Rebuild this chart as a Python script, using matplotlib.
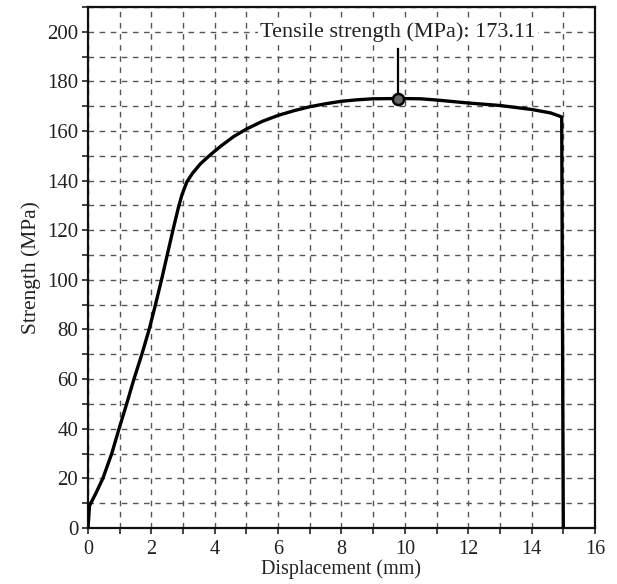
import matplotlib
matplotlib.use("Agg")
import matplotlib.pyplot as plt
from matplotlib.ticker import MultipleLocator

plt.rcParams["font.family"] = ["Liberation Serif", "DejaVu Serif"]

# displacement (mm) / strength (MPa)
displacement = [0, 0.05, 0.25, 0.47, 0.75, 0.98, 1.22, 1.45, 1.7, 1.93, 2.13,
                2.32, 2.5, 2.68, 2.85, 2.97, 3.12, 3.3, 3.55, 3.85, 4.2, 4.6,
                5.0, 5.5, 6.0, 6.5, 7.0, 7.5, 8.0, 8.5, 9.0, 9.78, 10.5, 11.0,
                12.0, 13.0, 14.0, 14.6, 14.95, 15.0]
strength = [0, 9, 14, 20, 30, 40, 50, 60, 70, 80, 90,
            100, 110, 120, 129, 134.5, 139.5, 143, 146.8, 150.3, 154, 157.8,
            160.8, 163.9, 166.3, 168.2, 169.8, 171, 172, 172.6, 173, 173.11,
            173, 172.5, 171.3, 170.3, 168.7, 167.3, 165.7, 0]

peak_x = 9.78
peak_y = 173.11
label_y = 200
stem_top = 193

fig = plt.figure(figsize=(6.17, 5.84), dpi=100)
ax = fig.add_axes([0.1426, 0.096, 0.8217, 0.892])

ax.plot(displacement, strength, color="black", lw=2.4, zorder=3,
        solid_joinstyle="round")
ax.plot([peak_x, peak_x], [peak_y, stem_top], color="black", lw=1.6, zorder=3)
ax.plot([peak_x], [peak_y], "o", ms=8, mfc="#666666", mec="black", mew=1.8,
        zorder=4)
ax.text(peak_x, label_y, f"Tensile strength (MPa): {peak_y:.2f}", ha="center",
        va="center", fontsize=16, color="#222222", zorder=5,
        bbox=dict(facecolor="white", edgecolor="none", pad=1.5))

ax.set_xlim(0, 16)
ax.set_ylim(0, 210)
ax.xaxis.set_major_locator(MultipleLocator(2))
ax.xaxis.set_minor_locator(MultipleLocator(1))
ax.yaxis.set_major_locator(MultipleLocator(20))
ax.yaxis.set_minor_locator(MultipleLocator(10))
ax.grid(True, which="both", color="#555555", ls=(0, (4, 4)), lw=1.0)
ax.set_axisbelow(True)
ax.tick_params(which="both", direction="out", length=4, width=1.2,
               labelsize=15, colors="#222222", pad=3)
ax.tick_params(axis="x", labelsize=14.5, pad=4.5)
for sp in ax.spines.values():
    sp.set_linewidth(1.6)
    sp.set_color("#111111")

ax.set_xlabel("Displacement (mm)", fontsize=14.5, labelpad=0.5,
              color="#222222")
ax.set_ylabel("Strength (MPa)", fontsize=15.5, labelpad=4, color="#222222")

fig.savefig("out.png", dpi=100)
